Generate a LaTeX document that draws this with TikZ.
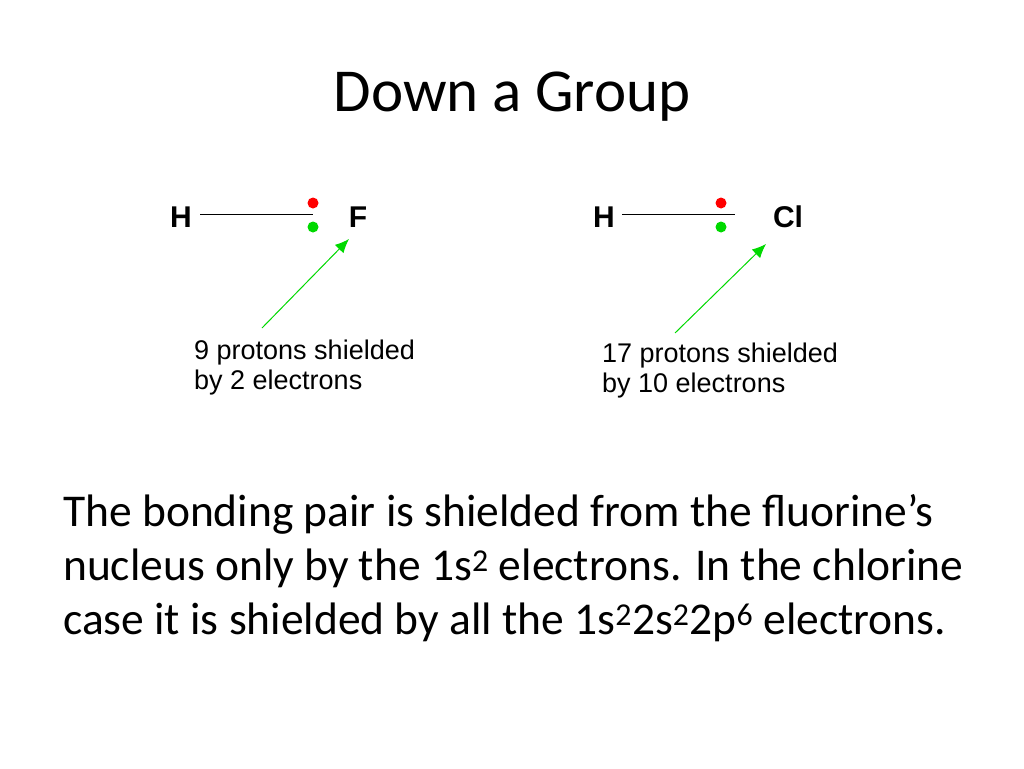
\documentclass[tikz,border=0pt]{standalone}
\usepackage{fontspec}
\usetikzlibrary{arrows.meta}
\setmainfont{Carlito}
\newfontfamily\arial{Liberation Sans}
\begin{document}
\begin{tikzpicture}[x=1pt,y=-1pt,
  atom/.style={font=\arial\bfseries\fontsize{30}{30}\selectfont,inner sep=0},
  lbl/.style={font=\arial\fontsize{27}{30}\selectfont,inner sep=0,anchor=north west,align=left},
  bond/.style={line width=1pt},
  rdot/.style={circle,fill=red,inner sep=0,minimum size=11pt},
  gdot/.style={circle,fill=green!85!black,inner sep=0,minimum size=11pt},
  arr/.style={green!85!black,line width=1pt,-{Latex[length=14pt,width=12pt]}}]
\useasboundingbox (0,0) rectangle (1024,768);
\fill[white] (0,0) rectangle (1024,768);
\node[font=\fontsize{61}{61}\selectfont] (title) at (512,97) {Down a Group};
% left
\node[atom] (h1) at (181,217) {H};
\node[atom] (f) at (358,217) {F};
\coordinate (b1s) at (200,214); \coordinate (b1e) at (313,214);
\draw[bond] (b1s) -- (b1e);
\node[rdot] (r1) at (313,203) {};
\node[gdot] (g1) at (313,227) {};
\coordinate (a1s) at (262,328); \coordinate (a1e) at (349,239);
\draw[arr] (a1s) -- (a1e);
\node[lbl] (t1) at (194,340) {9 protons shielded\\by 2 electrons};
% right
\node[atom] (h2) at (604,217) {H};
\node[atom] (cl) at (788,217) {Cl};
\coordinate (b2s) at (622,214); \coordinate (b2e) at (735,214);
\draw[bond] (b2s) -- (b2e);
\node[rdot] (r2) at (721,203) {};
\node[gdot] (g2) at (721,227) {};
\coordinate (a2s) at (675,333); \coordinate (a2e) at (766,244);
\draw[arr] (a2s) -- (a2e);
\node[lbl] (t2) at (602,343) {17 protons shielded\\by 10 electrons};
% bottom
\node[font=\fontsize{45.5}{54}\selectfont,anchor=north west,align=left,inner sep=0] (body) at (63,494)
{The bonding pair is shielded from the fluorine\symbol{39}s\\nucleus only by the 1s\textsuperscript{2} electrons. In the chlorine\\case it is shielded by all the 1s\textsuperscript{2}2s\textsuperscript{2}2p\textsuperscript{6} electrons.};
\end{tikzpicture}
\end{document}
